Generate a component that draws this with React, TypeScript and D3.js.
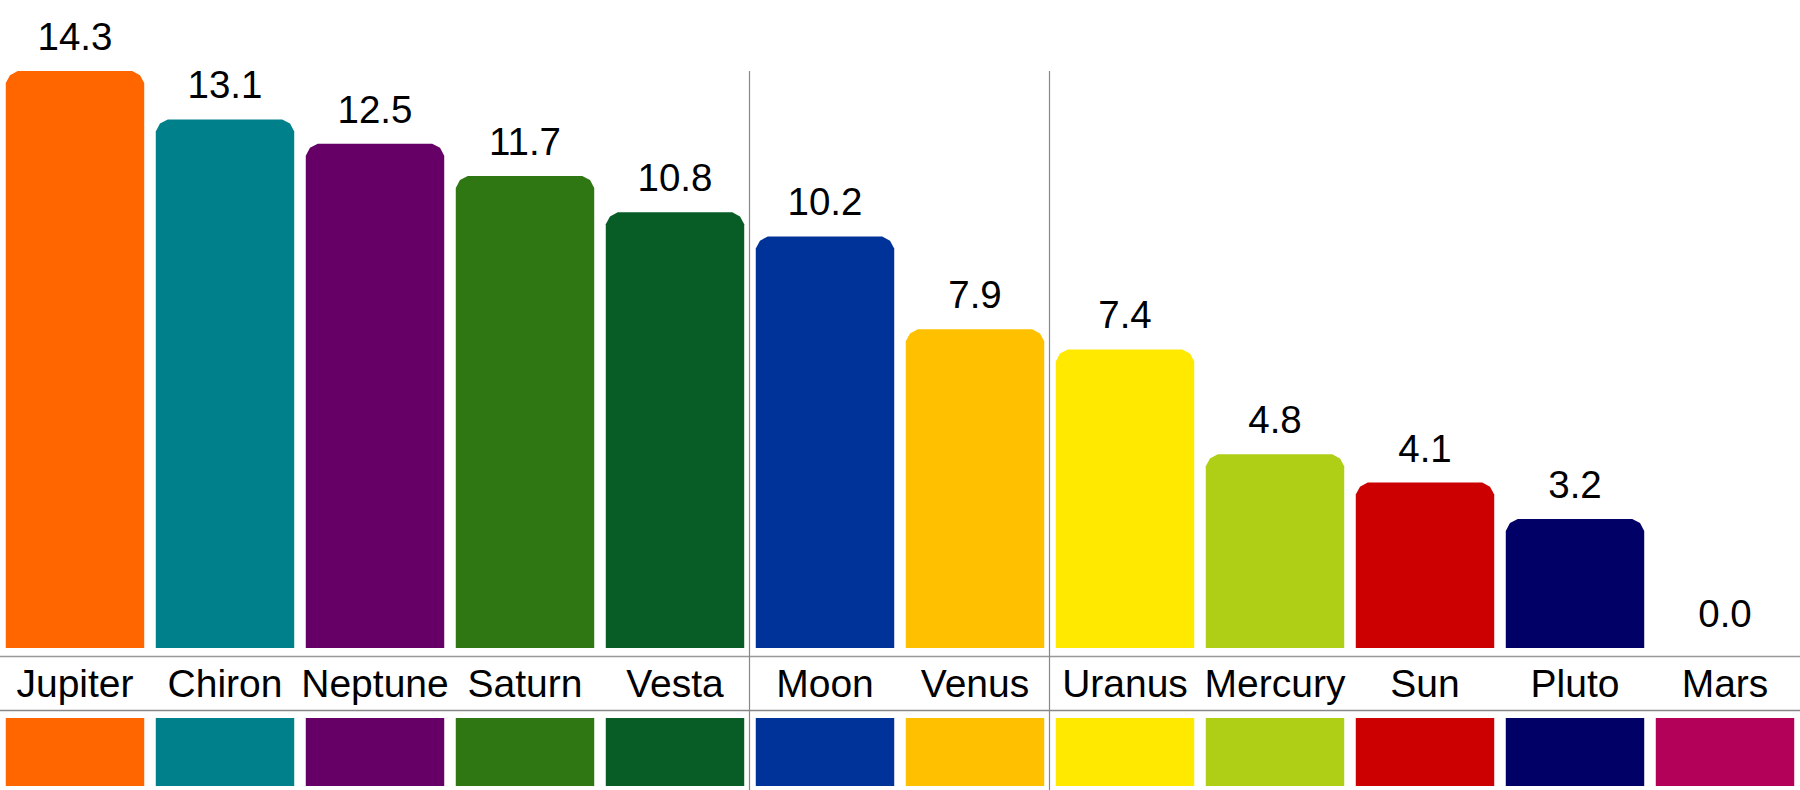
import React from 'react';
import * as d3 from 'd3';

const bodies = ['Jupiter', 'Chiron', 'Neptune', 'Saturn', 'Vesta', 'Moon', 'Venus', 'Uranus', 'Mercury', 'Sun', 'Pluto', 'Mars'];
const values = [14.3, 13.1, 12.5, 11.7, 10.8, 10.2, 7.9, 7.4, 4.8, 4.1, 3.2, 0.0];
const colors = ['#ff6600', '#00808a', '#660066', '#2f7712', '#085c26', '#003399', '#ffc000', '#ffe900', '#aecf16', '#cc0000', '#000066', '#b30059'];
// group boundaries: dividers drawn before these bodies
const groupStarts = ['Moon', 'Uranus'];

const W = 1800;
const H = 790;
const baseY = 648;
const topY = 71;
const font = '"Liberation Sans", Arial, sans-serif';

// bar path with bevelled top corners
const barPath = (x: number, y: number, w: number, h: number, r: number) => {
    if (h <= 0) return '';
    const rr = Math.min(r, h, w / 2);
    const k = rr * 0.35;
    return `M${x},${y + h}V${y + rr}L${x + k},${y + k}L${x + rr},${y}H${x + w - rr}L${x + w - k},${y + k}L${x + w},${y + rr}V${y + h}Z`;
};

const App: React.FC = () => {
    const x = d3.scaleBand<string>()
        .domain(bodies)
        .range([0, W])
        .paddingInner(0.077)
        .paddingOuter(0.0385);

    const y = d3.scaleLinear()
        .domain([0, d3.max(values) as number])
        .range([baseY, topY]);

    const step = x.step();

    return (
        <div style={{position: 'fixed', left: 0, top: 0}}>
            <svg width={W} height={H} style={{display: 'block', background: '#fff'}}>
                {/* bars */}
                {bodies.map((b, i) => (
                    <path key={b} d={barPath(x(b)!, y(values[i]), x.bandwidth(), baseY - y(values[i]), 12)}
                          fill={colors[i]}/>
                ))}
                {/* value labels */}
                {bodies.map((b, i) => (
                    <text key={'v' + b} x={x(b)! + x.bandwidth() / 2} y={y(values[i]) - 21}
                          textAnchor="middle" fontFamily={font} fontSize={38.5} fill="#000">
                        {d3.format('.1f')(values[i])}
                    </text>
                ))}
                {/* table lines */}
                <line x1={0} x2={W} y1={656.5} y2={656.5} stroke="#999" strokeWidth={1.5}/>
                <line x1={0} x2={W} y1={710.5} y2={710.5} stroke="#888" strokeWidth={1.5}/>
                {groupStarts.map(g => {
                    const gx = Math.round(x(g)! - (step - x.bandwidth()) / 2) - 0.5;
                    return <line key={'g' + g} x1={gx} x2={gx} y1={topY} y2={H} stroke="#888" strokeWidth={1.2}/>;
                })}
                {/* category labels */}
                {bodies.map(b => (
                    <text key={'l' + b} x={x(b)! + x.bandwidth() / 2} y={697}
                          textAnchor="middle" fontFamily={font} fontSize={39} fill="#000">
                        {b}
                    </text>
                ))}
                {/* colour swatches */}
                {bodies.map((b, i) => (
                    <rect key={'s' + b} x={x(b)!} y={718} width={x.bandwidth()} height={68} fill={colors[i]}/>
                ))}
            </svg>
        </div>
    );
};

export default App;
